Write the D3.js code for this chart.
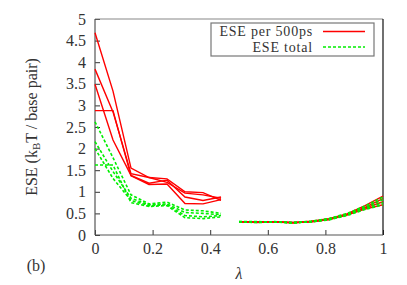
<!DOCTYPE html>
<html>
<head>
<meta charset="utf-8">
<script src="https://cdn.jsdelivr.net/npm/d3@7"></script>
<style>
    body { margin: 0; background: #fff; }
    text { font-family: "Liberation Serif", "DejaVu Serif", serif; fill: #333; }
</style>
</head>
<body>
<div id="chart"></div>
<script>
// lambda values for the two windows
const lambdaLeft = [0, 0.0625, 0.125, 0.1875, 0.25, 0.3125, 0.375, 0.4375];
const lambdaRight = [0.5, 0.5625, 0.625, 0.6875, 0.75, 0.8125, 0.875, 0.9375, 1.0];

// ESE per 500ps (red), left window
const redLeft1 = [4.68, 3.33, 1.55, 1.33, 1.30, 1.00, 0.98, 0.80];
const redLeft2 = [3.84, 2.85, 1.42, 1.33, 1.22, 0.97, 0.93, 0.85];
const redLeft3 = [3.49, 2.20, 1.38, 1.20, 1.27, 0.88, 0.80, 0.88];
const redLeft4 = [2.88, 2.88, 1.37, 1.17, 1.18, 0.73, 0.72, 0.82];

// ESE total (green), left window
const greenLeft1 = [2.62, 1.79, 0.93, 0.72, 0.76, 0.58, 0.56, 0.50];
const greenLeft2 = [2.16, 1.47, 0.85, 0.70, 0.72, 0.52, 0.50, 0.47];
const greenLeft3 = [2.00, 1.31, 0.80, 0.68, 0.70, 0.45, 0.42, 0.45];
const greenLeft4 = [1.62, 1.62, 0.75, 0.66, 0.68, 0.40, 0.38, 0.42];

// right window, both estimates lie on top of each other
const redRight1 = [0.31, 0.30, 0.31, 0.29, 0.32, 0.38, 0.49, 0.68, 0.90];
const redRight2 = [0.30, 0.31, 0.30, 0.28, 0.31, 0.37, 0.48, 0.64, 0.84];
const redRight3 = [0.31, 0.29, 0.31, 0.28, 0.31, 0.36, 0.47, 0.62, 0.77];
const redRight4 = [0.30, 0.30, 0.30, 0.29, 0.30, 0.36, 0.46, 0.60, 0.70];
const greenRight1 = [0.31, 0.31, 0.30, 0.29, 0.32, 0.38, 0.50, 0.67, 0.88];
const greenRight2 = [0.30, 0.30, 0.31, 0.28, 0.31, 0.37, 0.48, 0.64, 0.82];
const greenRight3 = [0.31, 0.30, 0.30, 0.28, 0.31, 0.36, 0.47, 0.61, 0.75];
const greenRight4 = [0.30, 0.29, 0.30, 0.29, 0.30, 0.35, 0.45, 0.59, 0.70];

const yTicks = [0, 0.5, 1, 1.5, 2, 2.5, 3, 3.5, 4, 4.5, 5];
const xTicks = [0, 0.2, 0.4, 0.6, 0.8, 1];

const fontSize = 16;
const svgWidth = 407;
const svgHeight = 285;
const margin = { top: 19, right: 24, bottom: 50, left: 95 };
const width = svgWidth - margin.left - margin.right;
const height = svgHeight - margin.top - margin.bottom;

const svg = d3.select('#chart').append('svg')
    .attr('width', svgWidth)
    .attr('height', svgHeight);

const g = svg.append('g')
    .attr('transform', `translate(${margin.left},${margin.top})`);

const x = d3.scaleLinear().domain([0, 1]).range([0, width]);
const y = d3.scaleLinear().domain([0, 5]).range([height, 0]);

// axes with inward ticks
const yAxis = g.append('g')
    .call(d3.axisLeft(y).tickValues(yTicks).tickSize(-5).tickPadding(9).tickFormat(d3.format('')));
const xAxis = g.append('g')
    .attr('transform', `translate(0,${height})`)
    .call(d3.axisBottom(x).tickValues(xTicks).tickSize(-5).tickPadding(8).tickFormat(d3.format('')));

[yAxis, xAxis].forEach(a => {
    a.select('.domain').remove();
    a.selectAll('line').attr('stroke', '#333');
    a.selectAll('text').attr('font-size', fontSize).attr('fill', '#333')
        .style('font-family', '"Liberation Serif", serif');
});

// frame
g.append('line').attr('x1', 0).attr('x2', width).attr('y1', 0).attr('y2', 0)
    .attr('stroke', '#888').attr('stroke-width', 1.2);
g.append('line').attr('x1', width).attr('x2', width).attr('y1', 0).attr('y2', height)
    .attr('stroke', '#111').attr('stroke-width', 1.2);
g.append('line').attr('x1', 0).attr('x2', 0).attr('y1', 0).attr('y2', height)
    .attr('stroke', '#555').attr('stroke-width', 1.2);
g.append('line').attr('x1', 0).attr('x2', width).attr('y1', height).attr('y2', height)
    .attr('stroke', '#555').attr('stroke-width', 1.2);

// series
const line = d3.line().x(d => x(d[0])).y(d => y(d[1]));
const pair = (xs, ys) => xs.map((v, i) => [v, ys[i]]);

function drawRed(xs, ys) {
    g.append('path').datum(pair(xs, ys))
        .attr('fill', 'none').attr('stroke', '#ff0000').attr('stroke-width', 1.4)
        .attr('d', line);
}
function drawGreen(xs, ys) {
    g.append('path').datum(pair(xs, ys))
        .attr('fill', 'none').attr('stroke', '#00ee00').attr('stroke-width', 1.6)
        .attr('stroke-dasharray', '3,2')
        .attr('d', line);
}

[redLeft1, redLeft2, redLeft3, redLeft4].forEach(s => drawRed(lambdaLeft, s));
[redRight1, redRight2, redRight3, redRight4].forEach(s => drawRed(lambdaRight, s));
[greenLeft1, greenLeft2, greenLeft3, greenLeft4].forEach(s => drawGreen(lambdaLeft, s));
[greenRight1, greenRight2, greenRight3, greenRight4].forEach(s => drawGreen(lambdaRight, s));

// legend (slightly smaller font, letter-spaced, so the two rows don't collide)
const legend = svg.append('g');
legend.append('rect')
    .attr('x', 211).attr('y', 23).attr('width', 163).attr('height', 33)
    .attr('fill', '#fff').attr('stroke', '#777').attr('stroke-width', 1.2);
legend.append('text').attr('x', 313).attr('y', 35.5).attr('text-anchor', 'end')
    .attr('font-size', 14).attr('letter-spacing', 0.8).text('ESE per 500ps');
legend.append('text').attr('x', 313).attr('y', 51.5).attr('text-anchor', 'end')
    .attr('font-size', 14).attr('letter-spacing', 0.8).text('ESE total');
legend.append('line').attr('x1', 323).attr('x2', 365).attr('y1', 31.5).attr('y2', 31.5)
    .attr('stroke', '#ff0000').attr('stroke-width', 1.4);
legend.append('line').attr('x1', 323).attr('x2', 365).attr('y1', 47).attr('y2', 47)
    .attr('stroke', '#00ee00').attr('stroke-width', 1.6).attr('stroke-dasharray', '3,2');

// axis titles
const yTitle = svg.append('text')
    .attr('transform', 'translate(37,127) rotate(-90)')
    .attr('text-anchor', 'middle').attr('font-size', fontSize);
yTitle.append('tspan').text('ESE (k');
yTitle.append('tspan').attr('font-size', 11).attr('dy', 3).text('B');
yTitle.append('tspan').attr('dy', -3).text('T / base pair)');

svg.append('text').attr('x', 239).attr('y', 279).attr('text-anchor', 'middle')
    .attr('font-size', 16).style('font-style', 'italic').text('λ');
svg.append('text').attr('x', 36).attr('y', 271).attr('text-anchor', 'middle')
    .attr('font-size', fontSize).text('(b)');
</script>
</body>
</html>
